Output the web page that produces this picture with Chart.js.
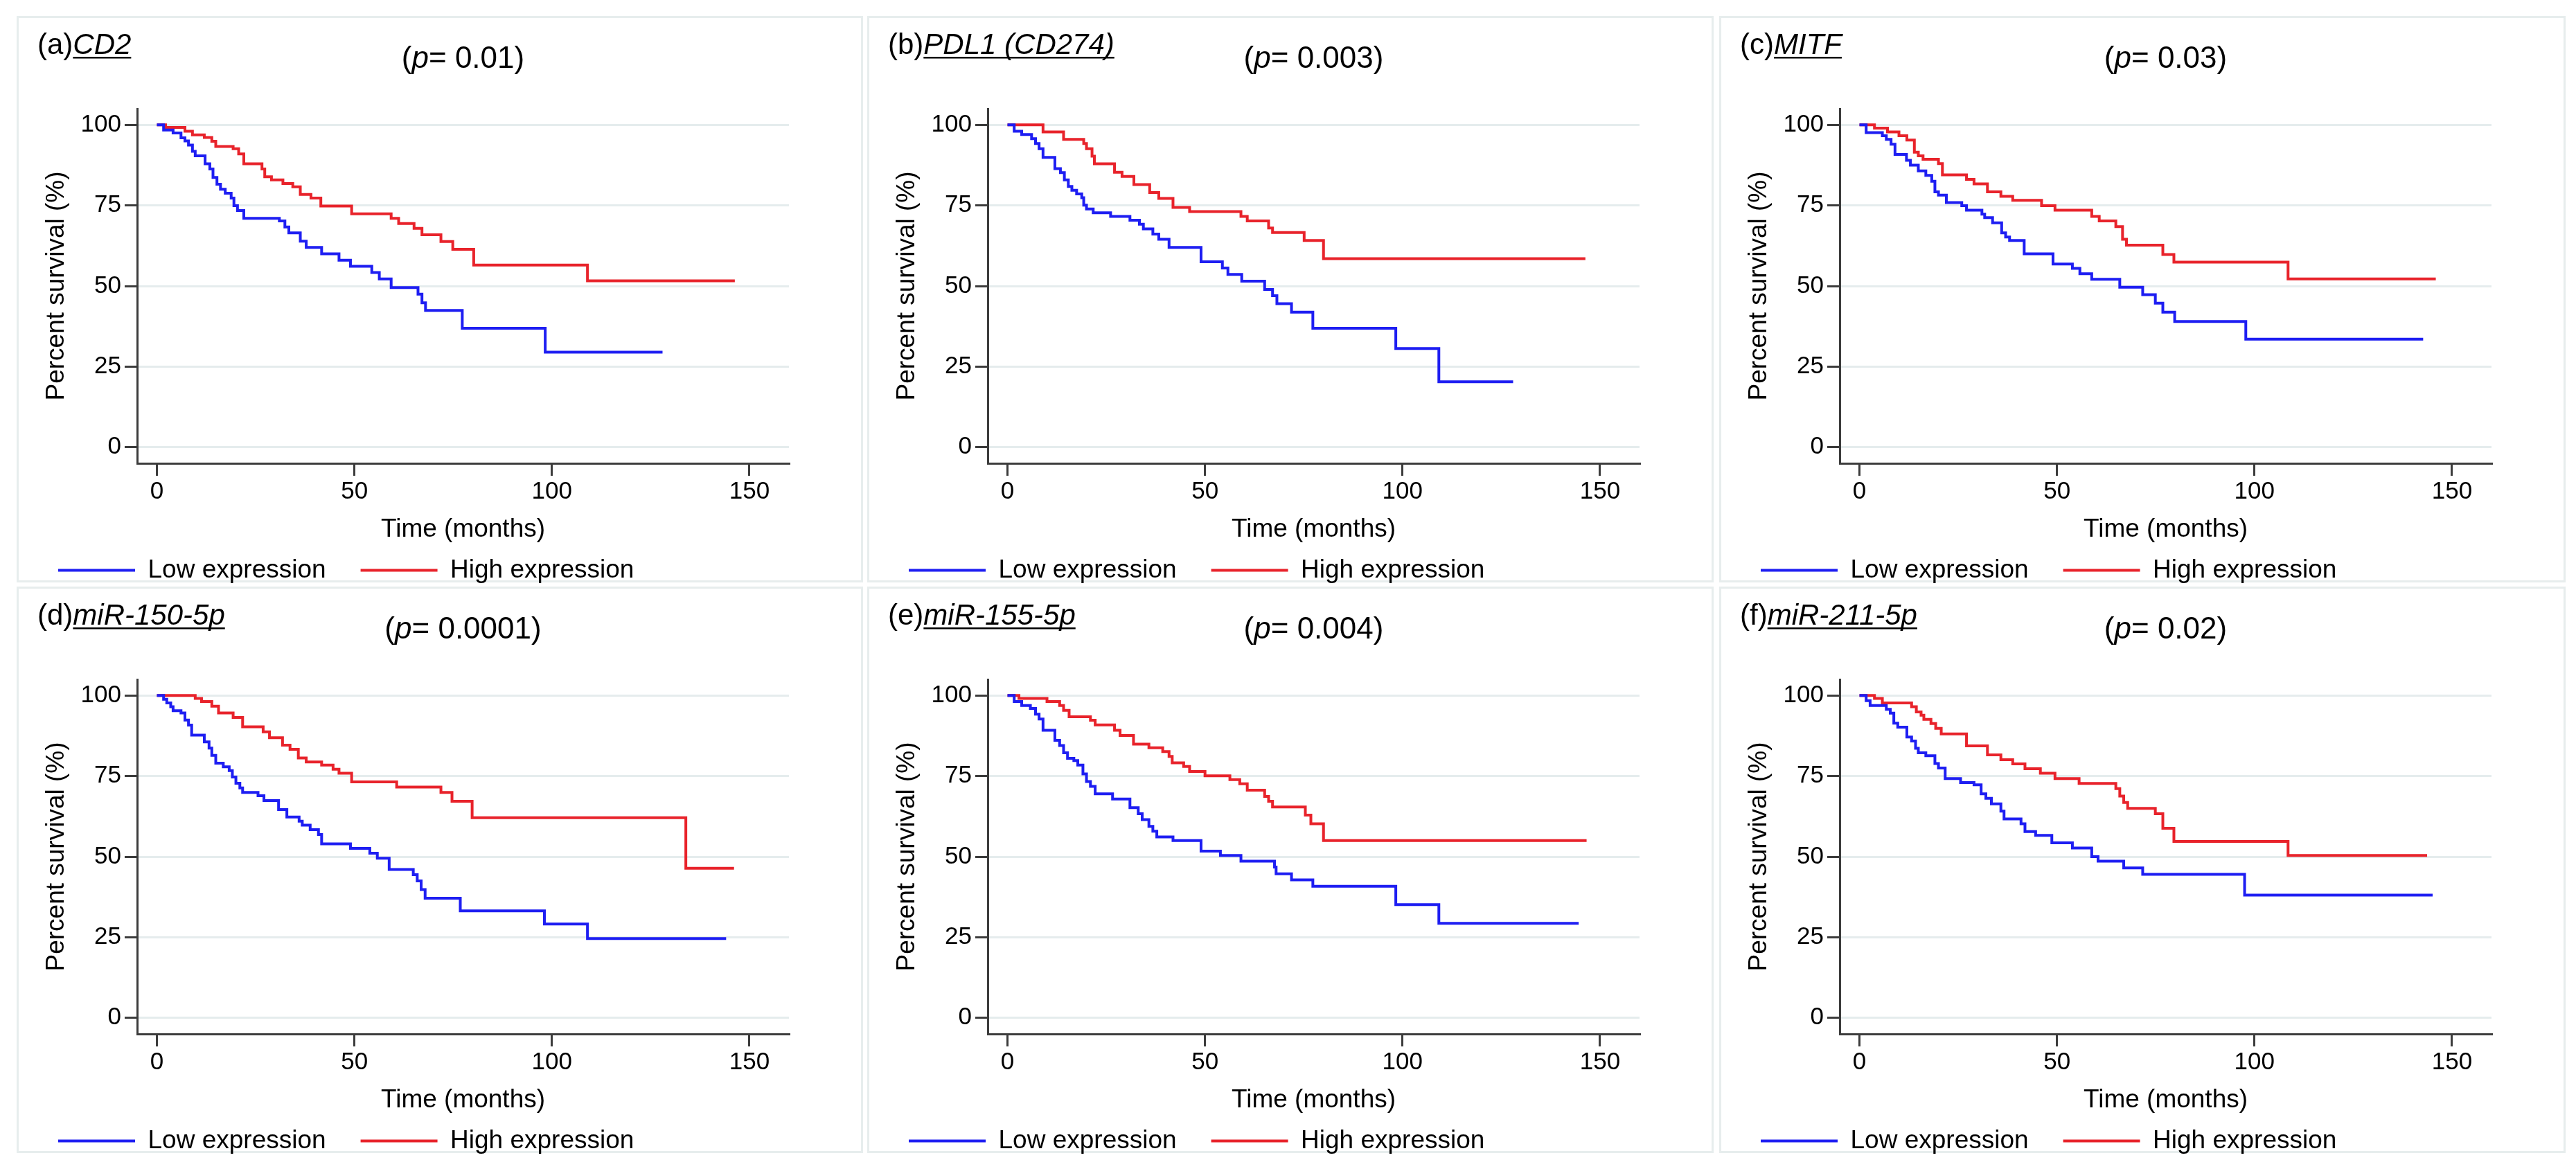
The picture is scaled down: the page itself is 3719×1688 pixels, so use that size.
<!DOCTYPE html>
<html>
<head>
<meta charset="utf-8">
<script src="https://cdn.jsdelivr.net/npm/chart.js@4.4.0/dist/chart.umd.min.js"></script>
<style>
  body { margin: 0; background: #fff; }
  #page { position: relative; width: 3719px; height: 1688px; overflow: hidden; }
  .panel { position: absolute; width: 1222px; height: 818px; outline: 3px solid #e7eded; outline-offset: -3px; }
  .panel canvas { position: absolute; left: 0; top: 0; }
</style>
</head>
<body>
<div id="page"></div>
<script>
// Kaplan-Meier steps: [months, percent surviving]
const cd2Low = [[0,100],[1.7,98.4],[4.1,97.5],[6.1,96],[7.1,95],[8,93.7],[9,91.8],[9.7,90.4],[12.2,87.9],[13.4,86.3],[14.2,83.7],[15.2,81.6],[16.1,80],[17.3,78.8],[18.8,77.3],[19.5,74.9],[20.4,73.4],[22,71],[31,70.2],[32.4,68.3],[33.4,66.5],[36.3,63.9],[37.8,62],[41.7,60],[46.1,58],[49,56.1],[54.4,54.2],[56.3,52.2],[59.3,49.5],[66.1,47.5],[67.1,44.8],[68,42.4],[77.3,36.9],[98.3,29.5],[128,29.5]];
const cd2High = [[0,100],[2.2,99.2],[7.1,98],[9,96.9],[12,96.1],[13.9,94.9],[14.9,93.3],[19.3,92.6],[20.7,91],[22,87.9],[26.6,86.3],[27.3,83.9],[29,82.9],[31.9,81.8],[34.4,80.8],[36.3,78.4],[39,77.3],[41.5,74.8],[49.3,72.4],[59.3,71],[61.2,69.4],[65.1,67.9],[67.1,65.9],[71.9,63.8],[74.9,61.4],[80.2,56.5],[109,51.6],[146.3,51.6]];
const pdl1Low = [[0,100],[1.7,98],[3.6,97],[6.1,95.7],[7.1,94.2],[8,92.6],[9,89.9],[12,86.4],[13.4,85.2],[14.4,82.9],[15.4,80.9],[16.3,79.7],[17.5,78.6],[18.8,77.4],[19.3,75.1],[20,73.9],[21.7,72.7],[26.1,71.6],[31,70.4],[33.4,69.2],[34.4,67.7],[36.8,66.1],[38.3,64.5],[40.9,62],[49,57.5],[54.4,55.6],[55.8,53.6],[59.3,51.5],[65.1,48.9],[67.1,47],[68.2,44.5],[71.9,41.9],[77.3,36.9],[98.3,30.6],[109.2,20.3],[128,20.3]];
const pdl1High = [[0,100],[9,97.8],[14.2,95.5],[19.3,94.2],[20,92.6],[21.4,90.3],[22,87.9],[27.1,85.3],[29,84],[32,81.5],[36,79],[38.3,77.2],[41.9,74.4],[46.1,73.1],[59.1,71.6],[60.7,70.2],[66.1,68],[67.1,66.6],[75.1,64.1],[80,58.5],[146.3,58.5]];
const mitfLow = [[0,100],[1.7,97.6],[5.8,96.6],[6.8,95.5],[8,94],[9,90.8],[11.9,89],[12.9,87.5],[14.9,85.7],[16.8,84.3],[18.3,82.5],[19.1,79.2],[20,78.2],[22,75.9],[25.9,74.9],[27.1,73.5],[31,72.3],[31.7,71.2],[33.7,69.6],[36,66.5],[37,65.2],[38,64.1],[41.7,60],[49,56.8],[53.9,55.5],[55.8,53.8],[58.8,52.1],[65.9,49.6],[71.7,47.3],[74.9,44.7],[76.8,41.9],[79.8,39],[97.8,33.5],[142.7,33.5]];
const mitfHigh = [[0,100],[3.8,99],[7.1,97.8],[10,96.6],[12,95.3],[13.9,91.5],[14.9,90.4],[16.1,89.3],[20,88],[21,84.5],[27.1,83.1],[29,81.7],[32.4,79.2],[35.8,77.8],[38.8,76.6],[46.1,74.9],[49.5,73.5],[58.8,71.6],[60.7,70.2],[64.9,68.4],[66.6,64.5],[67.6,62.7],[76.8,59.8],[79.6,57.4],[108.5,52.2],[145.9,52.2]];
const mir150Low = [[0,100],[1.7,98.8],[2.5,97.7],[3.5,96.5],[4.1,95.3],[6.1,94.6],[7.1,92.4],[8,90.8],[8.8,87.7],[12,85.6],[13.2,83.7],[13.9,81.4],[14.9,79],[16.8,77.9],[18.3,76.7],[19.1,74.7],[20,72.8],[21,71.3],[21.7,69.9],[25.6,68.9],[27.1,67.4],[30.8,64.6],[32.9,62.3],[36,61],[36.8,59.8],[38.8,58.4],[40.9,56.9],[41.7,54],[49,52.6],[53.9,51.1],[55.8,49.5],[58.8,46],[64.9,44.4],[65.9,42.5],[66.9,39.8],[67.9,37.1],[76.8,33.2],[98.1,29.1],[109,24.6],[144.1,24.6]];
const mir150High = [[0,100],[9.7,99.1],[11.3,98.1],[13.9,96.7],[15.6,94.6],[19.3,93.2],[21.7,90.3],[26.9,88.7],[28.5,86.9],[31.8,84.6],[33.7,83.3],[35.8,80.6],[37.8,79.4],[41.7,78.4],[44.6,77.1],[46.1,75.9],[49.3,73.2],[60.7,71.6],[71.9,69.9],[74.7,67.2],[79.8,62.1],[133.9,46.4],[146.1,46.4]];
const mir155Low = [[0,100],[1.7,98.1],[3.6,96.9],[5.8,96],[7.1,94.2],[8,92.7],[9,89.2],[12,86.1],[13.2,84.5],[14.2,82.2],[15.2,80.5],[16.8,79.8],[17.8,78.4],[19.1,75.7],[20,73.3],[21,71.8],[22.2,69.5],[26.6,67.9],[31,65.2],[33.1,63.3],[34.1,61.5],[35.8,59.4],[36.8,57.9],[37.8,56.1],[41.9,55],[49,51.7],[53.9,50.4],[59.1,48.6],[67.6,46.8],[68,44.7],[71.9,42.8],[77.3,40.8],[98.3,35.1],[109.2,29.3],[144.6,29.3]];
const mir155High = [[0,100],[2.9,99.1],[10,98.1],[13.2,96.9],[14.2,95.4],[15.6,93.4],[21,92.3],[22.2,90.9],[27.1,89.2],[28.5,87.6],[31.9,84.9],[35.8,83.8],[39.3,82.6],[40.9,81.1],[41.7,79.1],[44.6,78],[46.1,76.4],[50,75.1],[56.3,73.9],[58.8,72.6],[60.7,70.6],[65.1,68.7],[66.1,67.2],[67.1,65.4],[75.4,62.9],[76.8,60.2],[80,55],[146.6,55]];
const mir211Low = [[0,100],[1.7,98.4],[2.7,96.9],[6.8,95.7],[7.8,94.5],[8.7,91.4],[9.7,90.2],[12,87.1],[13.2,85.9],[14.2,83.6],[14.9,82.2],[16.8,81.3],[19.1,78.9],[20,77.5],[21.7,74.2],[25.6,73],[29,72.3],[30.8,69.5],[32,68.1],[33.4,66.4],[35.8,64.1],[36.6,61.7],[40.9,60.2],[41.9,57.8],[44.6,56.6],[48.7,54.3],[53.9,52.7],[58.8,50],[60.4,48.6],[66.9,46.5],[71.7,44.5],[97.5,38.1],[145.1,38.1]];
const mir211High = [[0,100],[3.8,99.1],[5.8,97.7],[13.2,96.5],[14.4,94.9],[15.6,93.9],[16.3,92.6],[18.1,91.3],[19.3,89.8],[20.7,88.1],[27.1,84.4],[32.4,81.6],[35.8,80.1],[38.8,78.8],[41.9,77.3],[45.8,75.9],[49.5,74.2],[55.6,72.7],[64.9,71.1],[65.9,68.8],[66.9,66.8],[67.9,65],[74.9,63.3],[76.8,58.8],[79.6,54.7],[108.5,50.4],[143.7,50.4]];

const panelTags = ['(a)', '(b)', '(c)', '(d)', '(e)', '(f)'];
const genes = ['CD2', 'PDL1 (CD274)', 'MITF', 'miR-150-5p', 'miR-155-5p', 'miR-211-5p'];
const pValues = ['0.01', '0.003', '0.03', '0.0001', '0.004', '0.02'];
const lowCurves = [cd2Low, pdl1Low, mitfLow, mir150Low, mir155Low, mir211Low];
const highCurves = [cd2High, pdl1High, mitfHigh, mir150High, mir155High, mir211High];
const seriesNames = ['Low expression', 'High expression'];
const xTicks = [0, 50, 100, 150];
const yTicks = [0, 25, 50, 75, 100];

const FONT = '"Liberation Sans", Arial, sans-serif';
const AXIS = '#3c3c3c';
const BLUE = '#1e1ef2';
const RED = '#e8232b';
Chart.defaults.font.family = FONT;
Chart.defaults.color = '#000';

// panel label "(a)CD2" top left, p-value centred over the plot
const panelText = {
    id: 'panelText',
    afterDraw(chart, args, opts) {
        const ctx = chart.ctx;
        const area = chart.chartArea;
        ctx.save();
        ctx.fillStyle = '#000';
        ctx.textBaseline = 'alphabetic';
        ctx.textAlign = 'left';

        ctx.font = '42px ' + FONT;
        let x = 30;
        const y = 55;
        ctx.fillText(opts.tag, x, y);
        x += ctx.measureText(opts.tag).width;
        ctx.font = 'italic 42px ' + FONT;
        const gw = ctx.measureText(opts.gene).width;
        ctx.fillText(opts.gene, x, y);
        ctx.fillRect(x, y + 4, gw, 2.5);

        const py = 75;
        const parts = [['(', ''], ['p', 'italic '], ['= ' + opts.p + ')', '']];
        let total = 0;
        parts.forEach(([t, st]) => { ctx.font = st + '44px ' + FONT; total += ctx.measureText(t).width; });
        let px = (area.left + area.right) / 2 - total / 2;
        parts.forEach(([t, st]) => {
            ctx.font = st + '44px ' + FONT;
            ctx.fillText(t, px, py);
            px += ctx.measureText(t).width;
        });
        ctx.restore();
    }
};

const page = document.getElementById('page');
const lefts = [24, 1252, 2482];
const tops = [23, 847];

for (let i = 0; i < 6; i++) {
    const div = document.createElement('div');
    div.className = 'panel';
    div.style.left = lefts[i % 3] + 'px';
    div.style.top = tops[Math.floor(i / 3)] + 'px';
    const canvas = document.createElement('canvas');
    canvas.width = 1222;
    canvas.height = 832;
    canvas.style.width = '1222px';
    canvas.style.height = '832px';
    div.appendChild(canvas);
    page.appendChild(div);

    new Chart(canvas.getContext('2d'), {
        type: 'line',
        data: {
            datasets: [
                {
                    label: seriesNames[0],
                    data: lowCurves[i].map(([x, y]) => ({x, y})),
                    borderColor: BLUE,
                    backgroundColor: BLUE,
                    borderWidth: 4,
                    pointRadius: 0,
                    stepped: true,
                    fill: false
                },
                {
                    label: seriesNames[1],
                    data: highCurves[i].map(([x, y]) => ({x, y})),
                    borderColor: RED,
                    backgroundColor: RED,
                    borderWidth: 4,
                    pointRadius: 0,
                    stepped: true,
                    fill: false
                }
            ]
        },
        options: {
            responsive: false,
            animation: false,
            devicePixelRatio: 1,
            layout: { padding: { left: 10, right: 107, top: 134, bottom: 3 } },
            scales: {
                x: {
                    type: 'linear',
                    min: -5,
                    max: 160,
                    afterBuildTicks: s => { s.ticks = xTicks.map(v => ({ value: v })); },
                    afterFit: s => { s.height = 86; },
                    border: { color: AXIS, width: 3 },
                    grid: { drawOnChartArea: false, tickLength: 18, tickColor: AXIS, tickWidth: 3, lineWidth: 3 },
                    ticks: { padding: 2, color: '#000', font: { size: 35 }, maxRotation: 0 },
                    title: { display: true, text: 'Time (months)', color: '#000', font: { size: 37 }, padding: { top: 0, bottom: -32 } }
                },
                y: {
                    min: -5,
                    max: 105,
                    afterBuildTicks: s => { s.ticks = yTicks.map(v => ({ value: v })); },
                    afterFit: s => { s.width = 164; },
                    border: { color: AXIS, width: 3 },
                    grid: { color: '#e5eced', lineWidth: 3, tickLength: 18, tickColor: AXIS, tickWidth: 3 },
                    ticks: { padding: 5, color: '#000', font: { size: 35 } },
                    title: { display: true, text: 'Percent survival (%)', color: '#000', font: { size: 37 }, padding: { top: 26, bottom: 0 } }
                }
            },
            plugins: {
                legend: {
                    position: 'bottom',
                    align: 'start',
                    labels: {
                        usePointStyle: true,
                        pointStyle: 'line',
                        pointStyleWidth: 111,
                        padding: 50,
                        color: '#000',
                        font: { size: 37 }
                    }
                },
                tooltip: { enabled: false },
                panelText: { tag: panelTags[i], gene: genes[i], p: pValues[i] }
            }
        },
        plugins: [panelText]
    });
}
</script>
</body>
</html>
